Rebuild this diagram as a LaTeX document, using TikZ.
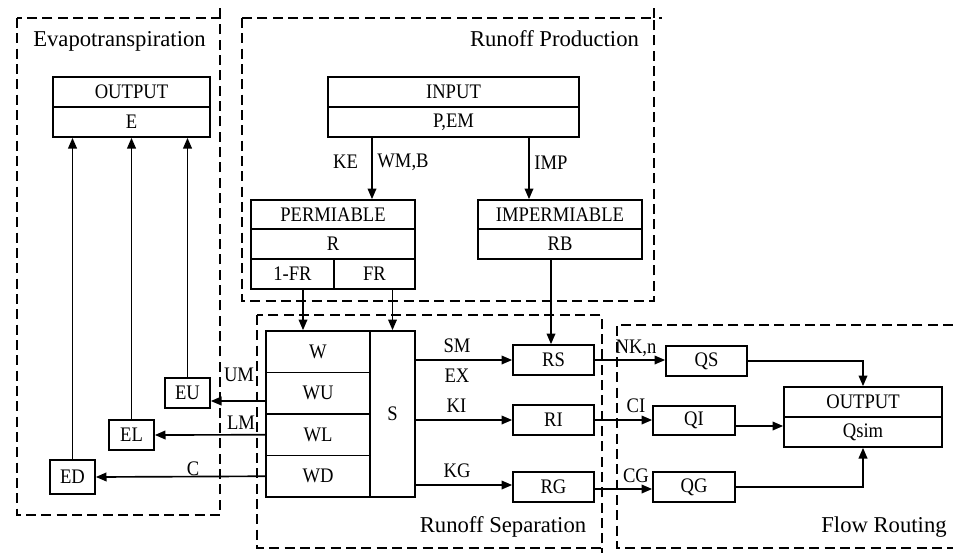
\documentclass[tikz,border=0pt]{standalone}
\usepackage{fontspec}
\setmainfont{Liberation Serif}
\newfontfamily\boxfont{Liberation Serif}[FakeStretch=0.9]
\usetikzlibrary{arrows.meta}
\begin{document}
\begin{tikzpicture}[x=0.75pt,y=-0.75pt,
  box/.style={draw,line width=1.25pt,inner sep=0pt,font=\boxfont\fontsize{15.5}{17}\selectfont},
  wh/.style 2 args={minimum width=#1*0.75pt,minimum height=#2*0.75pt},
  arr/.style={line width=1.25pt,-{Triangle[length=8pt,width=6.5pt]}},
  grp/.style={line width=1.2pt,dash pattern=on 7.5pt off 4pt},
  lab/.style={font=\boxfont\fontsize{15.5}{17}\selectfont,inner sep=0pt},
  glab/.style={font=\fontsize{17}{20}\selectfont,inner sep=0pt,anchor=base}]
\useasboundingbox (0,0) rectangle (953,553);

% group frames
\draw[grp] (17,18) rectangle (220,515);
\draw[grp] (220,8) -- (220,18);
\draw[grp] (242,18) rectangle (654,301);
\draw[grp] (654,8) -- (654,18) -- (662,18);
\draw[grp] (257,315) rectangle (602,548);
\draw[grp] (602,548) -- (602,553);
\draw[grp] (953,325) -- (617,325) -- (617,548) -- (953,548);

\node[glab] (gevap) at (119.5,46.5) {Evapotranspiration};
\node[glab] (gprod) at (554.5,46.5) {Runoff Production};
\node[glab] (gsep) at (503,532) {Runoff Separation};
\node[glab] (gflow) at (884,532) {Flow Routing};

% evapotranspiration
\node[box,wh={157}{30}] (eo1) at (131.5,92) {OUTPUT};
\node[box,wh={157}{30}] (eo2) at (131.5,122) {E};
\node[box,wh={45}{30}] (eu) at (187.5,393) {EU};
\node[box,wh={45}{30}] (el) at (131.5,435) {EL};
\node[box,wh={45}{34}] (ed) at (72.5,477) {ED};
\draw[arr] (eu.north) -- (eu.north |- eo2.south);
\draw[arr] (el.north) -- (el.north |- eo2.south);
\draw[arr] (ed.north) -- (ed.north |- eo2.south);

% runoff production
\node[box,wh={251}{30}] (in1) at (453.5,92) {INPUT};
\node[box,wh={251}{30}] (in2) at (453.5,122) {P,EM};
\node[box,wh={164}{29}] (pm1) at (333,214.5) {PERMIABLE};
\node[box,wh={164}{30}] (pm2) at (333,244) {R};
\node[box,wh={83}{30}] (pm3a) at (292.5,274) {1-FR};
\node[box,wh={81}{30}] (pm3b) at (374.5,274) {FR};
\node[box,wh={164}{29}] (im1) at (560,214.5) {IMPERMIABLE};
\node[box,wh={164}{30}] (im2) at (560,244) {RB};
\draw[arr] (in2.south -| 372,0) -- (pm1.north -| 372,0);
\draw[arr] (in2.south -| 529,0) -- (im1.north -| 529,0);
\node[lab] (lke) at (345.5,162) {KE};
\node[lab] (lwm) at (403,162) {WM,B};
\node[lab] (limp) at (551,163) {IMP};

% runoff separation
\node[box,wh={104}{41.5}] (w) at (318,351.75) {W};
\node[box,wh={104}{41.5}] (wu) at (318,393.25) {WU};
\node[box,wh={104}{41.5}] (wl) at (318,434.75) {WL};
\node[box,wh={104}{41.5}] (wd) at (318,476.25) {WD};
\node[box,wh={45}{166}] (s) at (392.5,414) {S};
\node[box,wh={81}{30}] (rs) at (553.5,360) {RS};
\node[box,wh={81}{30}] (ri) at (553.5,420) {RI};
\node[box,wh={81}{30}] (rg) at (553.5,487) {RG};
\draw[arr] (pm3a.south -| 303,0) -- (w.north -| 303,0);
\draw[arr] (pm3b.south -| s.north) -- (s.north);
\draw[arr] (im2.south -| 551,0) -- (rs.north -| 551,0);
\draw[arr] (s.east |- rs.west) -- (rs.west);
\draw[arr] (s.east |- ri.west) -- (ri.west);
\draw[arr] (s.east |- 0,485) -- (rg.west |- 0,485);
\node[lab] (lsm) at (457,346) {SM};
\node[lab] (lex) at (457,376) {EX};
\node[lab] (lki) at (456.5,406) {KI};
\node[lab] (lkg) at (457,471) {KG};

% evap arrows
\draw[arr] (wu.west |- 0,401) -- (eu.east |- 0,401);
\draw[arr] (wl.west) -- (el.east);
\draw[arr] (wd.west) -- (ed.east);
\node[lab] (lum) at (239,375) {UM};
\node[lab] (llm) at (241,423) {LM};
\node[lab] (lc) at (193,469) {C};

% flow routing
\node[box,wh={81}{30}] (qs) at (706.5,361) {QS};
\node[box,wh={82}{29}] (qi) at (694,420.5) {QI};
\node[box,wh={82}{30}] (qg) at (694,487) {QG};
\node[box,wh={158}{30}] (fo1) at (863,402) {OUTPUT};
\node[box,wh={158}{30}] (fo2) at (863,432) {Qsim};
\draw[arr] (rs.east) -- (rs.east -| qs.west);
\draw[arr] (ri.east) -- (ri.east -| qi.west);
\draw[arr] (rg.east |- 0,489) -- (qg.west |- 0,489);
\draw[arr] (qs.east) -| (fo1.north);
\draw[arr] (qi.east |- 0,426) -- (fo2.west |- 0,426);
\draw[arr] (qg.east) -| (fo2.south);
\node[lab] (lnk) at (636,348) {NK,n};
\node[lab] (lci) at (636,406) {CI};
\node[lab] (lcg) at (636,476) {CG};
\end{tikzpicture}
\end{document}
